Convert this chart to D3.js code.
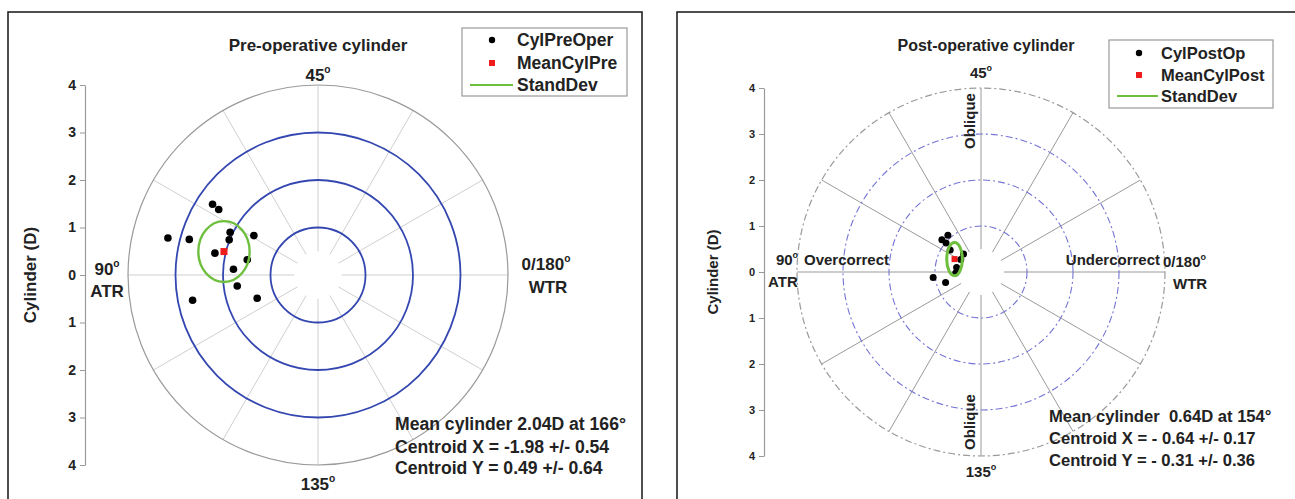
<!DOCTYPE html>
<html>
<head>
<meta charset="utf-8">
<script src="https://cdn.jsdelivr.net/npm/d3@7"></script>
<style>
  body { margin: 0; background: #fff; }
  svg { display: block; }
  text { font-family: "Liberation Sans", Arial, sans-serif; font-weight: bold; fill: #222; }
</style>
</head>
<body>
<svg id="chart" width="1295" height="499"></svg>
<script>
// Double-angle astigmatism vectors (dioptres): x = C·cos2θ, y = C·sin2θ
const preX  = [-2.22, -2.09, -3.16, -2.71, -1.85, -1.87, -1.35, -2.17, -1.49, -1.78, -1.70, -2.64, -1.28];
const preY  = [ 1.49,  1.38,  0.78,  0.75,  0.90,  0.74,  0.83,  0.46,  0.32,  0.12, -0.23, -0.53, -0.49];
const postX = [-0.72, -0.85, -0.76, -0.67, -0.38, -0.44, -0.53, -0.55, -1.04, -0.77];
const postY = [ 0.80,  0.70,  0.63,  0.48,  0.39,  0.27,  0.10, -0.02, -0.12, -0.23];

// Summary statistics: mean cylinder (D), its double angle (°), centroid and SD
const preMean  = [2.04, 166];
const preCentroid = [-1.98, 0.49];
const preSD    = [0.54, 0.64];
const postMean = [0.64, 154];
const postCentroid = [-0.64, -0.31];
const postSD   = [0.17, 0.36];

const ringValues  = [1, 2, 3];
const tickValues  = [-4, -3, -2, -1, 0, 1, 2, 3, 4];
const spokeAngles = d3.range(0, 360, 30);

const svg = d3.select("#chart");
const fmt = d3.format(".2f");

function degLabel(g, x, y, main, size) {
  const t = g.append("text").attr("x", x).attr("y", y)
    .attr("text-anchor", "middle").style("font-size", size + "px");
  t.append("tspan").text(main);
  t.append("tspan").attr("dy", -size * 0.45).style("font-size", (size * 0.6) + "px").text("o");
  return t;
}

function drawPanel(p) {
  const g = svg.append("g");
  // panel frame
  g.append("rect").attr("x", p.frame[0]).attr("y", p.frame[1])
    .attr("width", p.frame[2]).attr("height", p.frame[3])
    .attr("fill", "#fff").attr("stroke", "#222").attr("stroke-width", 1.6);

  const x = d3.scaleLinear().domain([-4, 4]).range([p.cx - p.R, p.cx + p.R]);
  const y = d3.scaleLinear().domain([-4, 4]).range([p.cy + p.R, p.cy - p.R]);
  const r = d3.scaleLinear().domain([0, 4]).range([0, p.R]);

  // spokes every 30°
  g.append("g").selectAll("line").data(spokeAngles).join("line")
    .attr("x1", a => p.cx + r(0.5) * Math.cos(a * Math.PI / 180))
    .attr("y1", a => p.cy - r(0.5) * Math.sin(a * Math.PI / 180))
    .attr("x2", a => p.cx + r(4) * Math.cos(a * Math.PI / 180))
    .attr("y2", a => p.cy - r(4) * Math.sin(a * Math.PI / 180))
    .attr("stroke", p.spokeColor).attr("stroke-width", 1);

  // outer ring
  g.append("circle").attr("cx", p.cx).attr("cy", p.cy).attr("r", r(4))
    .attr("fill", "none").attr("stroke", "#9a9a9a").attr("stroke-width", 1.2)
    .attr("stroke-dasharray", p.dash);

  // magnitude rings
  g.append("g").selectAll("circle").data(ringValues).join("circle")
    .attr("cx", p.cx).attr("cy", p.cy).attr("r", d => r(d))
    .attr("fill", "none").attr("stroke", p.ringColor).attr("stroke-width", p.ringWidth)
    .attr("stroke-dasharray", p.dash);

  // cylinder axis
  const ax = g.append("g").attr("transform", `translate(${p.axisX},0)`)
    .call(d3.axisLeft(y).tickValues(tickValues).tickFormat(d => Math.abs(d))
      .tickSize(5).tickSizeOuter(0).tickPadding(4));
  ax.select(".domain").attr("stroke", "#999").attr("stroke-width", 1.2);
  ax.selectAll(".tick line").attr("stroke", "#999");
  ax.selectAll(".tick text").style("font-family", '"Liberation Sans", Arial, sans-serif')
    .style("font-weight", "bold").style("font-size", p.tickSize + "px").attr("fill", "#333");

  g.append("text").attr("transform", `translate(${p.ylabelX},${p.cy}) rotate(-90)`)
    .attr("text-anchor", "middle").style("font-size", p.labelSize + "px").text("Cylinder  (D)");

  g.append("text").attr("x", p.titleX).attr("y", p.titleY).attr("text-anchor", "middle")
    .style("font-size", p.titleSize + "px").text(p.title);

  // data points
  g.append("g").selectAll("circle").data(p.xs.map((v, i) => [v, p.ys[i]])).join("circle")
    .attr("cx", d => x(d[0])).attr("cy", d => y(d[1])).attr("r", p.dotR).attr("fill", "#000");

  // mean vector and SD ellipse
  const mx = p.mean[0] * Math.cos(p.mean[1] * Math.PI / 180);
  const my = p.mean[0] * Math.sin(p.mean[1] * Math.PI / 180);
  g.append("ellipse").attr("cx", x(mx)).attr("cy", y(my))
    .attr("rx", r(p.sd[0])).attr("ry", r(p.sd[1]))
    .attr("fill", "none").attr("stroke", "#6fbf3f").attr("stroke-width", p.ellW);
  g.append("rect").attr("x", x(mx) - p.sq / 2).attr("y", y(my) - p.sq / 2)
    .attr("width", p.sq).attr("height", p.sq).attr("fill", "#ee1c1c");

  // legend
  const L = p.legend;
  g.append("rect").attr("x", L.x).attr("y", L.y).attr("width", L.w).attr("height", L.h)
    .attr("fill", "#fff").attr("stroke", "#999").attr("stroke-width", 1.2);
  g.append("circle").attr("cx", L.mx).attr("cy", L.rows[0]).attr("r", 3.2).attr("fill", "#000");
  g.append("rect").attr("x", L.mx - 3).attr("y", L.rows[1] - 3).attr("width", 6).attr("height", 6).attr("fill", "#ee1c1c");
  g.append("line").attr("x1", L.l1).attr("x2", L.l2).attr("y1", L.rows[2]).attr("y2", L.rows[2])
    .attr("stroke", "#6fbf3f").attr("stroke-width", 2);
  L.names.forEach((n, i) => g.append("text").attr("x", L.tx).attr("y", L.rows[i] + L.size * 0.36)
    .style("font-size", L.size + "px").text(n));

  // orientation labels
  degLabel(g, p.cx, p.topY, "45", p.angSize);
  degLabel(g, p.cx, p.botY, "135", p.angSize);
  p.texts.forEach(t => {
    const el = g.append("text").attr("x", t.x).attr("y", t.y)
      .attr("text-anchor", t.anchor || "start").style("font-size", (t.size || p.angSize) + "px");
    if (t.rot) el.attr("transform", `rotate(-90,${t.x},${t.y})`);
    el.append("tspan").text(t.s);
    if (t.deg) el.append("tspan").attr("dy", -p.angSize * 0.45)
      .style("font-size", (p.angSize * 0.6) + "px").text("o");
  });

  // summary statistics
  const sign = v => (v < 0 ? p.neg : "") + fmt(Math.abs(v));
  const lines = [
    `Mean cylinder${p.gap}${fmt(p.mean[0])}D at ${p.mean[1]}°`,
    `Centroid X = ${sign(p.centroid[0])} +/- ${fmt(p.sd[0])}`,
    `Centroid Y = ${sign(p.centroid[1])} +/- ${fmt(p.sd[1])}`
  ];
  lines.forEach((s, i) => g.append("text").attr("x", p.statX).attr("y", p.statY[i])
    .style("font-size", p.statSize + "px").attr("xml:space", "preserve").text(s));
}

drawPanel({
  frame: [8, 12, 634, 520], cx: 318, cy: 275, R: 190,
  spokeColor: "#cfcfcf", ringColor: "#3447b0", ringWidth: 1.8, dash: null,
  axisX: 85, tickSize: 14, ylabelX: 36, labelSize: 17,
  title: "Pre-operative cylinder", titleX: 318, titleY: 51, titleSize: 17,
  xs: preX, ys: preY, dotR: 3.8, sq: 7, ellW: 2.4,
  mean: preMean, centroid: preCentroid, sd: preSD, neg: "-", gap: " ",
  legend: { x: 462, y: 28, w: 165, h: 68, mx: 492, tx: 517, l1: 470, l2: 513,
            rows: [40, 63, 85], size: 17.5, names: ["CylPreOper", "MeanCylPre", "StandDev"] },
  topY: 81, botY: 490, angSize: 17,
  texts: [
    { x: 107, y: 275, s: "90", deg: true, anchor: "middle" },
    { x: 107, y: 297, s: "ATR", anchor: "middle" },
    { x: 546, y: 270, s: "0/180", deg: true, anchor: "middle" },
    { x: 548, y: 293, s: "WTR", anchor: "middle" }
  ],
  statX: 395, statY: [430, 453, 474], statSize: 17.6
});

drawPanel({
  frame: [677, 12, 640, 520], cx: 981, cy: 272, R: 184,
  spokeColor: "#9a9a9a", ringColor: "#7474d4", ringWidth: 1.1, dash: "7,3,2,3",
  axisX: 764, tickSize: 11, ylabelX: 718, labelSize: 15,
  title: "Post-operative cylinder", titleX: 986, titleY: 51, titleSize: 16,
  xs: postX, ys: postY, dotR: 3.5, sq: 6, ellW: 3,
  mean: postMean, centroid: postCentroid, sd: postSD, neg: "- ", gap: "  ",
  legend: { x: 1109, y: 40, w: 164, h: 68, mx: 1139, tx: 1161, l1: 1117, l2: 1158,
            rows: [53, 75, 96], size: 16.5, names: ["CylPostOp", "MeanCylPost", "StandDev"] },
  topY: 78, botY: 477, angSize: 15,
  texts: [
    { x: 787, y: 265, s: "90", deg: true, anchor: "middle" },
    { x: 804, y: 265, s: "Overcorrect" },
    { x: 768, y: 287, s: "ATR" },
    { x: 1160, y: 265, s: "Undercorrect", anchor: "end" },
    { x: 1163, y: 267, s: "0/180", deg: true },
    { x: 1173, y: 289, s: "WTR" },
    { x: 975, y: 121, s: "Oblique", anchor: "middle", rot: true },
    { x: 975, y: 422, s: "Oblique", anchor: "middle", rot: true }
  ],
  statX: 1049, statY: [422, 444, 466], statSize: 16.6
});
</script>
</body>
</html>
